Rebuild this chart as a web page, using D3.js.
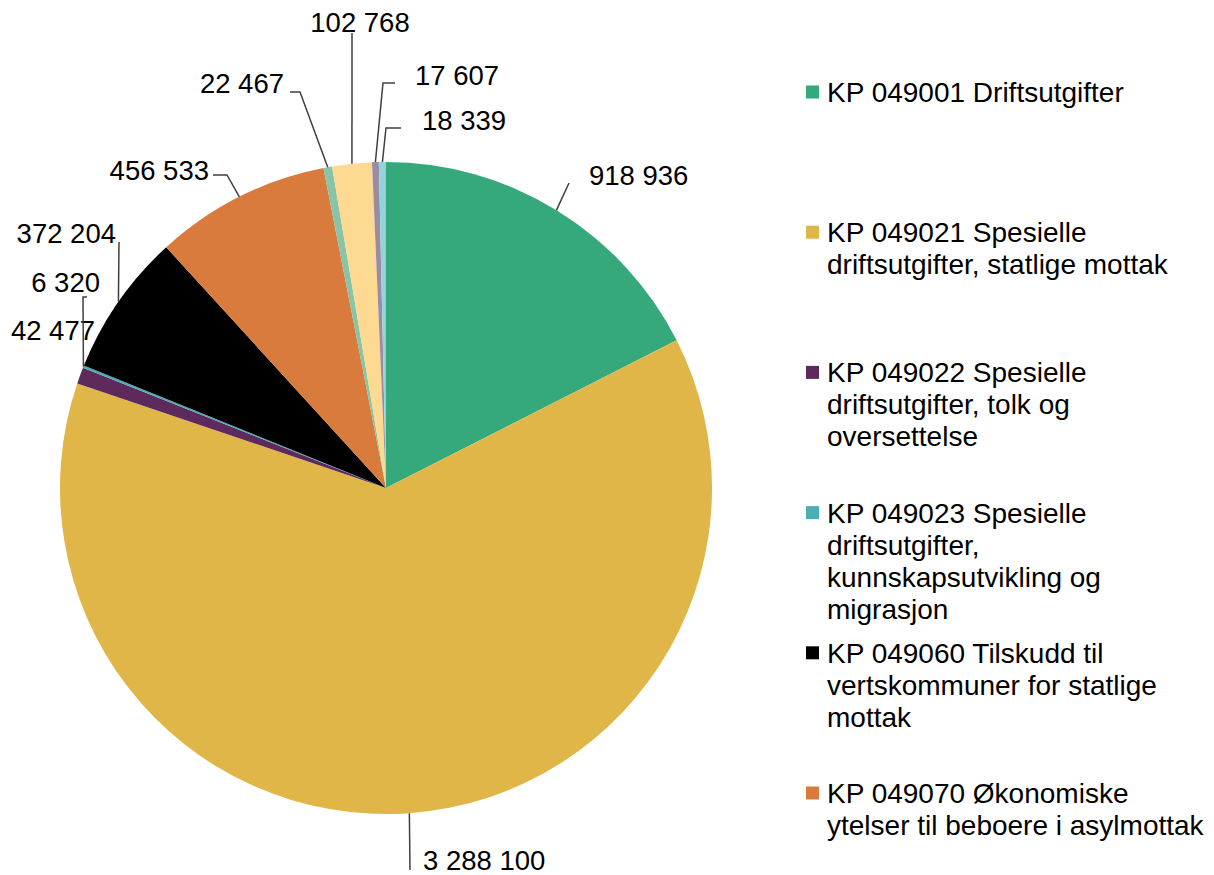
<!DOCTYPE html>
<html>
<head>
<meta charset="utf-8">
<script src="https://cdn.jsdelivr.net/npm/d3@7"></script>
<style>
  body { margin: 0; background: #fff; }
  text { font-family: "Liberation Sans", Arial, sans-serif; fill: #000; }
</style>
</head>
<body>
<svg id="chart" width="1214" height="875"></svg>
<script>
// data
const codes = ["049001", "049021", "049022", "049023", "049060", "049070", "049071", "049072", "049073", "049075"];
const values = [918936, 3288100, 42477, 6320, 372204, 456533, 22467, 102768, 17607, 18339];
const valueLabels = ["918 936", "3 288 100", "42 477", "6 320", "372 204", "456 533", "22 467", "102 768", "17 607", "18 339"];
const colors = ["#35a97b", "#e1b649", "#5e2a5c", "#4badb5", "#000000", "#d97b3c", "#88c4a5", "#fed991", "#9c8ca3", "#93d3dd"];
const legendLines = [
    ["KP 049001 Driftsutgifter"],
    ["KP 049021 Spesielle", "driftsutgifter, statlige mottak"],
    ["KP 049022 Spesielle", "driftsutgifter, tolk og", "oversettelse"],
    ["KP 049023 Spesielle", "driftsutgifter,", "kunnskapsutvikling og", "migrasjon"],
    ["KP 049060 Tilskudd til", "vertskommuner for statlige", "mottak"],
    ["KP 049070 Økonomiske", "ytelser til beboere i asylmottak"]
];

// label placement (leader path after the arc point, then text anchor)
const labelLayout = [
    { path: [[569, 183]], text: [589, 175], anchor: "start" },
    { path: [[410, 870]], text: [423, 860], anchor: "start" },
    { path: null, text: [95, 330], anchor: "end" },
    { path: [[83, 297], [87, 297]], text: [100, 282], anchor: "end" },
    { path: [[119, 242]], text: [116, 233], anchor: "end" },
    { path: [[227, 175], [213, 175]], text: [209, 170], anchor: "end" },
    { path: [[300, 92], [290, 92]], text: [284, 83], anchor: "end" },
    { path: [[352, 33]], text: [360, 22], anchor: "middle" },
    { path: [[383, 83], [395, 83]], text: [415, 75], anchor: "start" },
    { path: [[386, 128], [401, 128]], text: [422, 120], anchor: "start" }
];

const svg = d3.select("#chart");
const cx = 386, cy = 488, r = 326;
const labelSize = 27.5, legendSize = 28;

const pie = d3.pie().sort(null).value(d => d);
const arcs = pie(values);
const arc = d3.arc().innerRadius(0).outerRadius(r);
const edge = d3.arc().innerRadius(r).outerRadius(r);

const g = svg.append("g").attr("transform", `translate(${cx},${cy})`);

g.selectAll("path.slice")
    .data(arcs)
    .join("path")
    .attr("class", "slice")
    .attr("d", arc)
    .attr("fill", (d, i) => colors[i]);

// leader lines + value labels
const line = d3.line();
arcs.forEach((d, i) => {
    const L = labelLayout[i];
    const p = edge.centroid(d);
    const start = [cx + p[0], cy + p[1]];
    if (L.path) {
        svg.append("path")
            .attr("d", line([start].concat(L.path)))
            .attr("fill", "none")
            .attr("stroke", "#404040")
            .attr("stroke-width", 1.5);
    }
    svg.append("text")
        .attr("x", L.text[0])
        .attr("y", L.text[1])
        .attr("dy", "0.36em")
        .attr("text-anchor", L.anchor)
        .style("font-size", labelSize + "px")
        .text(valueLabels[i]);
});

// legend
const ly = d3.scaleLinear().domain([0, legendLines.length - 1]).range([92, 793]);
const lineH = 32;
const legend = svg.append("g");
legendLines.forEach((lines, i) => {
    const y0 = ly(i);
    legend.append("rect")
        .attr("x", 806).attr("y", y0 - 6.5)
        .attr("width", 13).attr("height", 13)
        .attr("fill", colors[i]);
    const t = legend.append("text")
        .style("font-size", legendSize + "px");
    lines.forEach((s, j) => {
        t.append("tspan")
            .attr("x", 827)
            .attr("y", y0 + j * lineH)
            .attr("dy", "0.36em")
            .text(s);
    });
});
</script>
</body>
</html>
